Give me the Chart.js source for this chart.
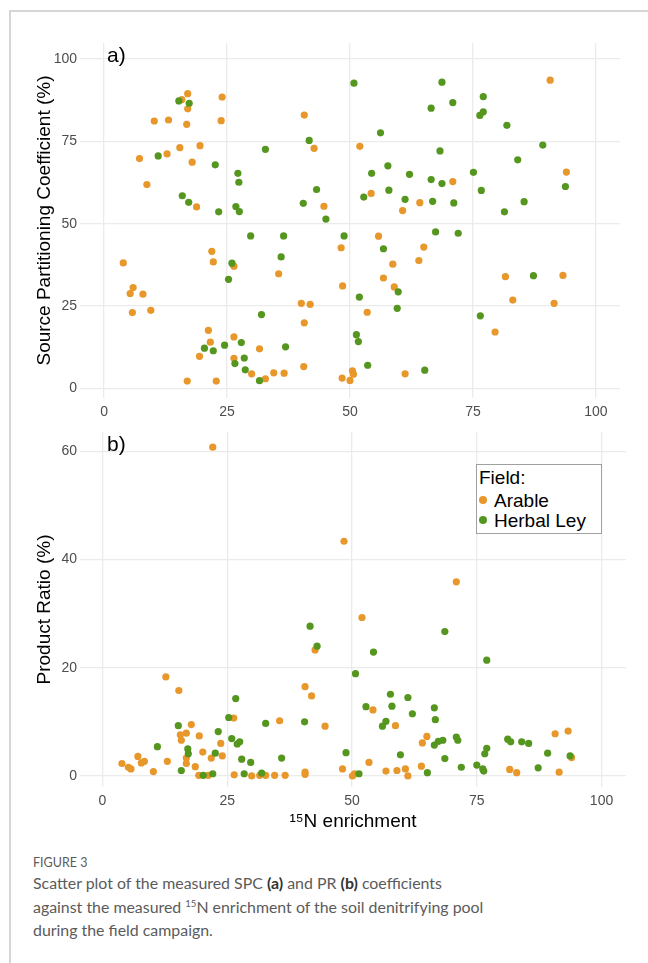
<!DOCTYPE html>
<html>
<head>
<meta charset="utf-8">
<script src="https://cdn.jsdelivr.net/npm/chart.js@4.4.1/dist/chart.umd.min.js"></script>
<style>
  body { margin: 0; background: #fff; }
  #page { position: relative; width: 648px; height: 963px; overflow: hidden; font-family: "Liberation Sans", Arial, sans-serif; }
  #frame { position: absolute; left: 9px; top: 10px; right: -4px; bottom: -4px; border-left: 2px solid #d6d6d6; border-top: 2px solid #d6d6d6; }
  canvas { position: absolute; left: 0; }
  #chartA { top: 0; }
  #chartB { top: 420px; }
  #legend { position: absolute; left: 476px; top: 464px; width: 124px; height: 68px; border: 1px solid #a0a0a0; background: #fff; font-size: 19px; color: #000; }
  #legend span { position: absolute; white-space: nowrap; line-height: 20px; }
  #legend i { position: absolute; width: 8px; height: 8px; border-radius: 50%; }
  #caption { position: absolute; left: 33px; top: 855px; font-family: Lato, "Open Sans", sans-serif; color: #5b5b5b; }
  .figno { font-size: 12.5px; line-height: 16px; }
  .captext { font-size: 15.9px; line-height: 23.5px; margin-top: 0; }
  .captext b { color: #333; }
  sup { font-size: 0.6em; line-height: 0; vertical-align: 0.65em; }
</style>
</head>
<body>
<div id="page">
  <div id="frame"></div>
  <canvas id="chartA" width="648" height="420"></canvas>
  <canvas id="chartB" width="648" height="425"></canvas>
  <div id="legend">
    <span style="left:2px;top:3px">Field:</span>
    <i style="left:2px;top:31px;background:#E8972A"></i>
    <span style="left:17px;top:26px">Arable</span>
    <i style="left:2px;top:51px;background:#55961F"></i>
    <span style="left:17px;top:46px">Herbal Ley</span>
  </div>
  <div id="caption">
    <div class="figno">FIGURE 3</div>
    <div class="captext">Scatter plot of the measured SPC <b>(a)</b> and PR <b>(b)</b> coefficients<br>against the measured <sup>15</sup>N enrichment of the soil denitrifying pool<br>during the field campaign.</div>
  </div>
</div>
<script>
// tick labels
const xTicks = [0, 25, 50, 75, 100];
const spcTicks = [0, 25, 50, 75, 100];
const prTicks = [0, 20, 40, 60];

// a) Source Partitioning Coefficient (%) vs 15N enrichment
const spcArableX = [17.0, 15.8, 17.0, 24.0, 10.2, 13.1, 16.8, 23.8, 40.7, 15.4, 19.5, 12.8, 7.2, 17.9, 42.7, 8.7, 18.8, 44.7, 52.0, 90.7,
  94.0, 70.9, 54.3, 64.2, 60.7, 55.8, 3.9, 5.9, 5.3, 7.9, 5.75, 9.5, 21.9, 22.2, 26.4, 35.5, 48.2, 48.5, 40.1, 41.9,
  40.7, 21.2, 21.6, 26.4, 31.6, 19.4, 26.4, 30.0, 32.8, 34.5, 36.6, 40.6, 16.9, 22.8, 48.4, 50.0, 50.5, 50.7, 65.0, 58.7,
  64.0, 56.8, 59.0, 53.5, 81.6, 93.3, 83.1, 91.5, 79.5, 61.2];
const spcArableY = [89.5, 87.7, 84.9, 88.5, 81.2, 81.5, 80.2, 81.3, 83.0, 73.1, 73.7, 71.2, 69.8, 68.7, 72.9, 61.9, 55.1, 55.3, 73.5, 93.6,
  65.7, 62.8, 59.2, 56.4, 54.0, 46.2, 38.1, 30.6, 28.8, 28.6, 23.0, 23.7, 41.6, 38.4, 37.1, 34.8, 42.7, 31.1, 25.8, 25.5,
  19.9, 17.6, 14.0, 15.6, 12.0, 9.7, 9.1, 4.4, 2.9, 4.7, 4.6, 6.6, 2.2, 2.2, 3.1, 2.4, 5.3, 4.3, 42.9, 37.7,
  38.8, 33.5, 30.8, 23.1, 33.9, 34.3, 26.8, 25.8, 17.1, 4.4];
const spcLeyX = [15.2, 17.3, 11.0, 22.6, 27.2, 27.4, 32.8, 41.7, 43.2, 15.9, 17.2, 23.3, 26.8, 27.5, 40.5, 45.1, 29.8, 36.5, 48.8, 50.8,
  68.7, 70.9, 66.5, 77.1, 76.4, 77.1, 81.9, 56.2, 68.3, 89.2, 84.1, 54.4, 57.7, 62.1, 66.5, 68.7, 75.1, 76.7, 57.9, 52.8,
  61.2, 66.8, 71.1, 85.4, 81.4, 93.8, 67.4, 72.0, 26.0, 25.3, 36.0, 32.0, 27.9, 24.5, 20.4, 22.2, 36.9, 28.5, 26.6, 28.7,
  31.6, 51.9, 51.3, 51.7, 56.8, 59.8, 59.6, 87.3, 76.5, 53.6, 65.2];
const spcLeyY = [87.3, 86.6, 70.6, 67.9, 65.3, 62.6, 72.6, 75.3, 60.4, 58.5, 56.5, 53.6, 55.2, 53.7, 56.2, 51.4, 46.3, 46.3, 46.3, 92.7,
  93.0, 86.8, 85.1, 88.6, 82.9, 84.0, 79.9, 77.6, 72.1, 73.9, 69.4, 65.3, 67.6, 65.0, 63.4, 62.2, 65.6, 60.1, 60.2, 58.1,
  57.4, 56.8, 56.3, 56.7, 53.6, 61.3, 47.5, 47.1, 38.0, 33.1, 39.9, 22.4, 13.9, 13.1, 12.2, 11.4, 12.6, 9.2, 7.5, 5.6,
  2.3, 27.7, 16.3, 14.2, 42.4, 29.3, 24.3, 34.2, 22.0, 7.0, 5.5];

// b) Product Ratio (%) vs 15N enrichment
const prArableX = [22.1, 48.4, 70.9, 52.0, 12.7, 15.3, 42.6, 40.6, 41.9, 26.3, 35.5, 44.6, 17.8, 15.6, 16.8, 15.8, 19.4, 23.7, 20.1, 24.0,
  21.8, 7.1, 8.4, 7.8, 3.9, 5.2, 5.7, 10.2, 13.0, 16.8, 16.8, 18.6, 19.3, 21.2, 26.4, 29.9, 31.5, 32.7, 34.5, 36.6,
  40.6, 40.6, 48.1, 50.1, 50.5, 54.2, 58.7, 65.0, 64.1, 90.7, 93.3, 94.0, 53.4, 63.9, 60.7, 56.8, 59.0, 61.2, 81.6, 83.0, 91.5];
const prArableY = [60.8, 43.4, 35.9, 29.3, 18.3, 15.8, 23.3, 16.5, 14.8, 10.7, 10.2, 9.2, 9.5, 7.6, 7.9, 6.6, 7.4, 6.0, 4.4, 3.7,
  3.3, 3.6, 2.7, 2.4, 2.3, 1.6, 1.3, 0.8, 2.7, 3.3, 2.3, 1.7, 0.1, 0.1, 0.2, 0.0, 0.1, 0.1, 0.1, 0.1,
  0.3, 0.7, 1.3, 0.0, 0.4, 12.2, 9.3, 7.3, 6.1, 7.8, 8.3, 3.4, 2.5, 1.8, 1.3, 0.9, 1.0, 0.0, 1.2, 0.6, 0.7];
const prLeyX = [41.6, 43.0, 50.7, 26.7, 25.3, 15.2, 32.7, 40.5, 23.2, 25.9, 27.0, 27.5, 11.0, 17.1, 17.2, 22.6, 27.9, 29.7, 35.9, 48.8,
  15.8, 20.2, 22.1, 28.4, 31.9, 51.4, 68.6, 54.3, 77.0, 57.7, 61.2, 52.8, 58.0, 66.5, 62.1, 66.7, 56.8, 56.1, 70.9, 71.2,
  68.2, 67.3, 66.5, 81.2, 81.8, 84.0, 85.4, 77.0, 76.6, 59.7, 68.6, 89.2, 93.7, 71.9, 75.0, 76.2, 76.4, 87.3, 65.1];
const prLeyY = [27.7, 24.0, 18.9, 14.3, 10.8, 9.3, 9.7, 10.0, 8.2, 6.9, 5.9, 6.3, 5.4, 5.0, 4.1, 4.2, 3.1, 2.5, 3.3, 4.3,
  1.0, 0.1, 0.4, 0.4, 0.5, 0.4, 26.7, 22.9, 21.4, 15.1, 14.5, 12.8, 12.9, 12.6, 11.5, 10.4, 10.1, 9.2, 7.2, 6.6,
  6.6, 6.4, 5.7, 6.8, 6.3, 6.3, 6.0, 5.1, 4.1, 3.9, 3.2, 4.2, 3.7, 1.6, 2.0, 1.3, 0.9, 1.5, 0.6];

const orange = '#E8972A';
const green = '#55961F';
const gridColor = '#ebebeb';
const tickColor = '#4d4d4d';
const font = '"Liberation Sans", Arial, sans-serif';

const pts = (xs, ys) => xs.map((x, i) => ({x: x, y: ys[i]}));

const panelLabel = (text) => ({
  id: 'panelLabel',
  afterDraw(chart) {
    const ctx = chart.ctx;
    ctx.save();
    ctx.font = '21px ' + font;
    ctx.fillStyle = '#000';
    ctx.textBaseline = 'alphabetic';
    ctx.fillText(text, chart.chartArea.left + 27, chart.chartArea.top + 19);
    ctx.restore();
  }
});

function scatter(id, o) {
  return new Chart(document.getElementById(id), {
    type: 'scatter',
    data: {
      datasets: [
        {label: 'Herbal Ley', data: pts(o.leyX, o.leyY), backgroundColor: green, pointRadius: 3.6, borderWidth: 0},
        {label: 'Arable', data: pts(o.arX, o.arY), backgroundColor: orange, pointRadius: 3.6, borderWidth: 0}
      ]
    },
    options: {
      responsive: false,
      animation: false,
      layout: {padding: {top: o.top, right: o.right, left: 0, bottom: 0}},
      plugins: {legend: {display: false}, tooltip: {enabled: false}},
      scales: {
        x: {
          type: 'linear', min: o.xmin, max: o.xmax,
          afterFit(s) { s.height = o.xh; },
          afterBuildTicks(s) { s.ticks = xTicks.map(v => ({value: v})); },
          grid: {color: gridColor, lineWidth: 1.3, drawTicks: false},
          border: {display: false},
          ticks: {padding: 6, color: tickColor, font: {family: font, size: 14}},
          title: {display: !!o.xtitle, text: o.xtitle, color: '#000', font: {family: font, size: 19}, padding: {top: 0, bottom: 12}}
        },
        y: {
          type: 'linear', min: o.ymin, max: o.ymax,
          afterFit(s) { s.width = 80; },
          afterBuildTicks(s) { s.ticks = o.yTicks.map(v => ({value: v})); },
          grid: {color: gridColor, lineWidth: 1.3, drawTicks: false},
          border: {display: false},
          ticks: {padding: 3, color: tickColor, font: {family: font, size: 14}},
          title: {display: true, text: o.ytitle, color: '#000', font: {family: font, size: 19}, padding: {top: 33, bottom: 0}}
        }
      }
    },
    plugins: [panelLabel(o.label)]
  });
}

scatter('chartA', {
  arX: spcArableX, arY: spcArableY, leyX: spcLeyX, leyY: spcLeyY,
  xmin: -4.9, xmax: 104.9, ymin: -2.95, ymax: 104.9, yTicks: spcTicks,
  top: 43, right: 28, xh: 22, label: 'a)',
  ytitle: 'Source Partitioning Coefficient (%)'
});

scatter('chartB', {
  arX: prArableX, arY: prArableY, leyX: prLeyX, leyY: prLeyY,
  xmin: -4.5, xmax: 104.9, ymin: -2.05, ymax: 63.6, yTicks: prTicks,
  top: 12, right: 22, xh: 58, label: 'b)',
  ytitle: 'Product Ratio (%)', xtitle: '\u00B9\u2075N enrichment'
});
</script>
</body>
</html>
